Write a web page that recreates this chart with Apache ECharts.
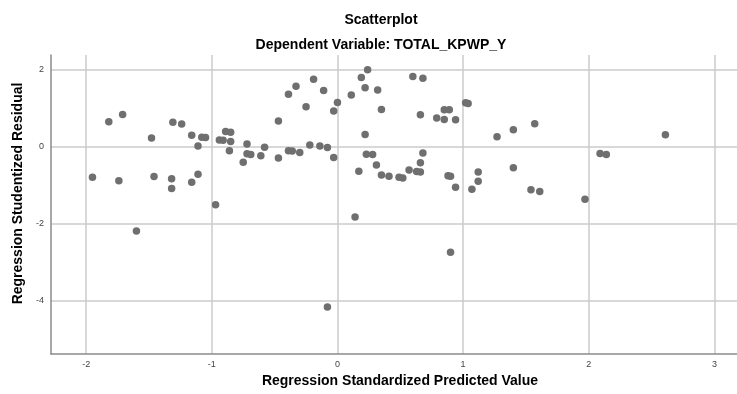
<!DOCTYPE html>
<html>
<head>
<meta charset="utf-8">
<script src="https://cdn.jsdelivr.net/npm/echarts@6/dist/echarts.min.js"></script>
<style>html,body{margin:0;padding:0;background:#fff}#c{width:737px;height:394px}</style>
</head>
<body>
<div id="c"></div>
<script>
const chartTitle = 'Scatterplot';
const chartSubtitle = 'Dependent Variable: TOTAL_KPWP_Y';
const xAxisTitle = 'Regression Standardized Predicted Value';
const yAxisTitle = 'Regression Studentized Residual';
const xTicks = [-2, -1, 0, 1, 2, 3];
const yTicks = [-4, -2, 0, 2];
const xPredicted = [
  -1.95, -1.82, -1.71, -1.74, -1.48, -1.46, -1.31, -1.24, -1.32, -1.32,
  -1.16, -1.08, -1.05, -1.11, -1.11, -1.16, -0.97, -0.94, -0.91, -0.89,
  -0.85, -0.85, -0.86, -0.75, -0.72, -0.72, -0.69, -0.61, -0.58, -0.47,
  -0.47, -0.39, -0.33, -0.25, -0.19, -0.11, -0.03, 0.00, -0.39, -0.36,
  -0.30, -0.22, -0.14, -0.08, -0.03, 0.11, 0.19, 0.24, 0.22, 0.32,
  0.35, 0.22, 0.23, 0.28, 0.31, 0.17, 0.35, 0.41, 0.49, 0.52,
  0.57, 0.63, 0.66, 0.66, 0.68, 0.66, 0.60, 0.68, 0.79, 0.85,
  0.85, 0.89, 0.94, 1.02, 1.04, 0.88, 0.90, 0.94, 1.07, 1.12,
  1.12, 0.14, 1.27, 1.40, 1.57, 2.61, 2.09, 2.14, 1.40, 1.54,
  1.61, 1.97, -1.60, 0.90, -0.08
];
const yResidual = [
  -0.80, 0.64, 0.83, -0.89, 0.22, -0.78, 0.63, 0.58, -0.84, -1.09,
  0.29, 0.24, 0.23, 0.01, -0.72, -0.93, -1.51, 0.17, 0.16, 0.39,
  0.37, 0.13, -0.11, -0.41, 0.06, -0.19, -0.21, -0.24, -0.02, -0.30,
  0.66, 1.35, 1.56, 1.03, 1.74, 1.45, 0.92, 1.14, -0.11, -0.12,
  -0.16, 0.04, 0.01, -0.03, -0.29, 1.33, 1.79, 1.99, 1.52, 1.46,
  0.96, 0.31, -0.20, -0.21, -0.48, -0.64, -0.74, -0.77, -0.80, -0.82,
  -0.61, -0.65, -0.66, -0.42, -0.17, 0.82, 1.81, 1.77, 0.74, 0.70,
  0.95, 0.95, 0.69, 1.13, 1.11, -0.76, -0.77, -1.06, -1.11, -0.66,
  -0.90, -1.83, 0.25, 0.43, 0.59, 0.30, -0.18, -0.21, -0.55, -1.12,
  -1.17, -1.37, -2.19, -2.74, -4.16
];
const points = xPredicted.map((x, i) => [x, yResidual[i]]);
const font = 'Liberation Sans, Arial, sans-serif';
const chart = echarts.init(document.getElementById('c'), null, {renderer: 'canvas'});
chart.setOption({
  backgroundColor: '#ffffff',
  animation: false,
  title: [
    {text: chartTitle, left: 376, top: 8, textAlign: 'center',
     textStyle: {fontFamily: font, fontSize: 14, fontWeight: 'bold', color: '#000'}},
    {text: chartSubtitle, left: 376, top: 33, textAlign: 'center',
     textStyle: {fontFamily: font, fontSize: 14, fontWeight: 'bold', color: '#000'}}
  ],
  grid: {left: 51, right: 0, top: 55, bottom: 40, containLabel: false},
  xAxis: {
    type: 'value', min: -2.28, max: 3.18,
    name: xAxisTitle, nameLocation: 'middle', nameGap: 20,
    nameTextStyle: {fontFamily: font, fontSize: 14, fontWeight: 'bold', color: '#000', padding: [0, 0, 0, 12]},
    axisLine: {show: true, onZero: false, lineStyle: {color: '#8a8a8a', width: 1.5}},
    axisTick: {show: false, customValues: xTicks},
    axisLabel: {customValues: xTicks, fontFamily: font, fontSize: 9, color: '#444', margin: 6},
    splitLine: {show: true, lineStyle: {color: '#cbcbcb', width: 1.5}}
  },
  yAxis: {
    type: 'value', min: -5.38, max: 2.37,
    name: yAxisTitle, nameLocation: 'middle', nameGap: 26, nameRotate: 90,
    nameTextStyle: {fontFamily: font, fontSize: 14, fontWeight: 'bold', color: '#000', padding: [0, 0, 0, 22]},
    axisLine: {show: true, onZero: false, lineStyle: {color: '#8a8a8a', width: 1.5}},
    axisTick: {show: false, customValues: yTicks},
    axisLabel: {customValues: yTicks, fontFamily: font, fontSize: 9, color: '#444', margin: 7},
    splitLine: {show: true, lineStyle: {color: '#cbcbcb', width: 1.5}}
  },
  series: [{
    type: 'scatter',
    data: points,
    symbol: 'circle',
    symbolSize: 7.5,
    itemStyle: {color: '#6f6f6f', opacity: 1},
    z: 5
  }]
});
</script>
</body>
</html>
